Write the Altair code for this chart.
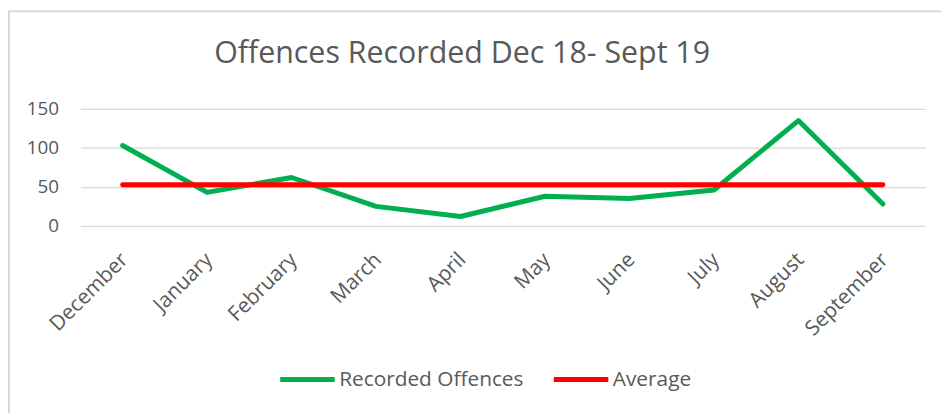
import altair as alt
import pandas as pd

months = ["December", "January", "February", "March", "April", "May",
          "June", "July", "August", "September"]
recorded = [103, 43, 62, 25, 12, 38, 35, 46, 135, 28]
average = [52.8, 52.8, 52.8, 52.8, 52.8, 52.8, 52.8, 52.8, 52.8, 52.8]
series_names = ["Recorded Offences", "Average"]
series_colors = ["#00B050", "#FF0000"]
y_ticks = [0, 50, 100, 150]

rows = []
for m, v in zip(months, recorded):
    rows.append({"month": m, "value": v, "series": series_names[0]})
for m, v in zip(months, average):
    rows.append({"month": m, "value": v, "series": series_names[1]})
df = pd.DataFrame(rows)

FONT = "Open Sans"
GREY = "#595959"

lines = alt.Chart(df).mark_line(strokeWidth=5, strokeCap="round", strokeJoin="round").encode(
    x=alt.X("month:N", sort=months, title=None,
            axis=alt.Axis(labelAngle=-45, labelFontSize=21, labelColor=GREY, labelFont=FONT,
                          ticks=False, domain=False, grid=False, labelPadding=29,
                          translate=-5.5)),
    y=alt.Y("value:Q", title=None, scale=alt.Scale(domain=[0, 150], nice=False),
            axis=alt.Axis(values=y_ticks, labelFontSize=19, labelColor=GREY, labelFont=FONT,
                          ticks=False, domain=False, grid=True, gridColor="#d9d9d9",
                          gridWidth=1.3, labelPadding=22)),
    color=alt.Color("series:N", sort=series_names,
                    scale=alt.Scale(domain=series_names, range=series_colors),
                    legend=alt.Legend(title=None, orient="none", legendX=199, legendY=243,
                                      direction="horizontal", symbolType="stroke",
                                      symbolSize=3025, symbolStrokeWidth=5,
                                      labelFontSize=21, labelFont=FONT, labelColor=GREY,
                                      labelLimit=0, columnPadding=20, labelOffset=2,
                                      padding=0)),
    order=alt.Order("series:N"),
)

one = pd.DataFrame({"a": [0]})
top_border = alt.Chart(one).mark_rule(color="#d9d9d9", strokeWidth=2).encode(
    x=alt.value(-73), x2=alt.value(868), y=alt.value(-98.5))
left_border = alt.Chart(one).mark_rule(color="#d9d9d9", strokeWidth=2).encode(
    x=alt.value(-72), y=alt.value(-99), y2=alt.value(307))

chart = alt.layer(top_border, left_border, lines).properties(
    width=852, height=118,
    autosize=alt.AutoSizeParams(type="none"),
    padding={"left": 73, "top": 100, "right": 16, "bottom": 189},
    title=alt.TitleParams("Offences Recorded Dec 18- Sept 19", fontSize=30.6, font=FONT,
                          fontWeight="normal", color=GREY, anchor="middle", dx=-41,
                          offset=20, dy=104, baseline="alphabetic"),
).configure_view(stroke=None)

chart.save("out.html", embed_options={"renderer": "svg", "actions": False})
